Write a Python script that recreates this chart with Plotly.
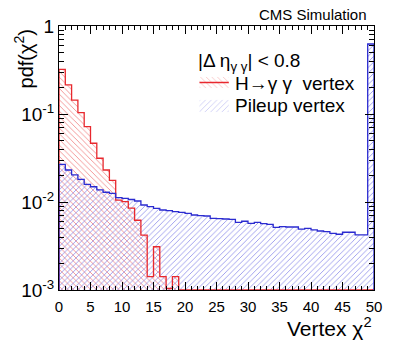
import numpy as np
import plotly.graph_objects as go

# ---- data (50 bins of width 1 in vertex chi2, 0..50) ----
bin_edges = list(range(0, 51))
higgs_vertex = [0.322, 0.214, 0.144, 0.1035, 0.0718, 0.0465, 0.0314, 0.0231, 0.0176, 0.0105,
                0.0101, 0.0085, 0.0062, 0.0042, 0.00142, 0.0031, 0.00142, 0.00104, 0.00142, 0,
                0, 0, 0, 0, 0, 0, 0, 0, 0, 0,
                0, 0, 0, 0, 0, 0, 0, 0, 0, 0,
                0, 0, 0, 0, 0, 0, 0, 0, 0, 0]
pileup_vertex = [0.0268, 0.0231, 0.0203, 0.0181, 0.0159, 0.0149, 0.0137, 0.0129, 0.01256, 0.0112,
                 0.0110, 0.01067, 0.01026, 0.00924, 0.00885, 0.00848, 0.00811, 0.00796, 0.00776, 0.00764,
                 0.00744, 0.00712, 0.00699, 0.00693, 0.00653, 0.00646, 0.00641, 0.00636, 0.00588, 0.00604,
                 0.00573, 0.00588, 0.00567, 0.00558, 0.00516, 0.00524, 0.0052, 0.0052, 0.00493, 0.00502,
                 0.00481, 0.00468, 0.0046, 0.00441, 0.0043, 0.00453, 0.00453, 0.00422, 0.00422, 0.624]
x_ticks = [0, 5, 10, 15, 20, 25, 30, 35, 40, 45, 50]
y_ticks = [1e-3, 1e-2, 1e-1, 1]
y_ticktext = ["10<sup>-3</sup>", "10<sup>-2</sup>", "10<sup>-1</sup>", "1"]

YMIN = 1e-3
FONT = "Liberation Sans, Arial, Helvetica, sans-serif"
RED_LINE = "#e8282e"
BLUE_LINE = "#2b2bd0"
RED_HATCH = "rgba(238,100,100,0.75)"
BLUE_HATCH = "rgba(115,115,228,0.75)"

edges = np.array(bin_edges, dtype=float)
centers = (edges[:-1] + edges[1:]) / 2
widths = np.diff(edges)


def step_xy(vals):
    """Histogram outline (ROOT-like): clipped at the axis minimum."""
    v = np.maximum(np.array(vals, dtype=float), YMIN)
    xs = [edges[0]] + list(edges) + [edges[-1]]
    ys = [YMIN] + list(v) + [v[-1], YMIN]
    return xs, ys


fig = go.Figure()

fig.add_trace(go.Bar(
    x=centers, y=higgs_vertex, width=widths,
    marker=dict(color=RED_HATCH, line=dict(width=0),
                pattern=dict(shape="\\", fgcolor=RED_HATCH, bgcolor="rgba(0,0,0,0)",
                             size=4, solidity=0.22, fillmode="replace")),
    showlegend=False, hoverinfo="skip"))
fig.add_trace(go.Bar(
    x=centers, y=pileup_vertex, width=widths,
    marker=dict(color=BLUE_HATCH, line=dict(width=0),
                pattern=dict(shape="/", fgcolor=BLUE_HATCH, bgcolor="rgba(0,0,0,0)",
                             size=4, solidity=0.22, fillmode="replace")),
    showlegend=False, hoverinfo="skip"))

rx, ry = step_xy(higgs_vertex)
bx, by = step_xy(pileup_vertex)
fig.add_trace(go.Scatter(x=rx, y=ry, mode="lines", line=dict(color=RED_LINE, width=1.3, shape="hv"),
                         showlegend=False, hoverinfo="skip"))
fig.add_trace(go.Scatter(x=bx, y=by, mode="lines", line=dict(color=BLUE_LINE, width=1.3, shape="hv"),
                         showlegend=False, hoverinfo="skip"))

# ---- legend swatches on an overlay axis (fractions of the plot area) ----
sw_x0, sw_x1 = 0.446, 0.539
fig.add_trace(go.Scatter(
    x=[sw_x0, sw_x1, sw_x1, sw_x0, sw_x0], y=[0.765, 0.765, 0.807, 0.807, 0.765],
    xaxis="x2", yaxis="y2", mode="none", fill="toself", fillcolor="rgba(0,0,0,0)",
    fillpattern=dict(shape="\\", fgcolor=RED_HATCH, bgcolor="rgba(0,0,0,0)", size=4, solidity=0.22),
    showlegend=False, hoverinfo="skip"))
fig.add_trace(go.Scatter(
    x=[sw_x0, sw_x1], y=[0.786, 0.786], xaxis="x2", yaxis="y2", mode="lines",
    line=dict(color=RED_LINE, width=1.5), showlegend=False, hoverinfo="skip"))
fig.add_trace(go.Scatter(
    x=[sw_x0, sw_x1, sw_x1, sw_x0, sw_x0], y=[0.674, 0.674, 0.72, 0.72, 0.674],
    xaxis="x2", yaxis="y2", mode="none", fill="toself", fillcolor="rgba(0,0,0,0)",
    fillpattern=dict(shape="/", fgcolor=BLUE_HATCH, bgcolor="rgba(0,0,0,0)", size=4, solidity=0.22),
    showlegend=False, hoverinfo="skip"))

minor_y = [k * 10.0 ** e for e in (-3, -2, -1) for k in range(2, 10)]

fig.update_layout(
    width=393, height=340,
    margin=dict(l=59, r=11, t=26, b=50),
    paper_bgcolor="white", plot_bgcolor="white",
    barmode="overlay", bargap=0,
    font=dict(family=FONT, color="black"),
    xaxis=dict(range=[0, 50], tickvals=x_ticks, ticks="inside", ticklen=8, tickcolor="black",
               showline=True, linecolor="black", linewidth=1, mirror="ticks",
               showgrid=False, zeroline=False, tickfont=dict(size=15, family=FONT),
               ticklabelstandoff=3,
               minor=dict(tickvals=list(range(0, 51)), ticks="inside", ticklen=4, tickcolor="black",
                          showgrid=False)),
    yaxis=dict(type="log", range=[-3, 0], tickvals=y_ticks, ticktext=y_ticktext,
               ticks="inside", ticklen=9, tickcolor="black",
               showline=True, linecolor="black", linewidth=1, mirror="ticks",
               showgrid=False, zeroline=False, tickfont=dict(size=19, family=FONT),
               minor=dict(tickvals=minor_y, ticks="inside", ticklen=5, tickcolor="black",
                          showgrid=False)),
    xaxis2=dict(overlaying="x", range=[0, 1], visible=False, fixedrange=True),
    yaxis2=dict(overlaying="y", range=[0, 1], visible=False, fixedrange=True),
    annotations=[
        dict(text="CMS Simulation", xref="paper", yref="paper", x=0.985, y=1.042,
             xanchor="right", yanchor="middle", showarrow=False, font=dict(size=15)),
        dict(text="|\u0394 \u03b7<sub>\u03b3 \u03b3</sub>| < 0.8", xref="paper", yref="paper",
             x=0.4334, y=0.862, xanchor="left", yanchor="middle", showarrow=False,
             font=dict(size=19)),
        dict(text="H\u2192\u03b3 \u03b3  vertex", xref="paper", yref="paper", x=0.551, y=0.784,
             xanchor="left", yanchor="middle", showarrow=False, font=dict(size=19)),
        dict(text="Pileup vertex", xref="paper", yref="paper", x=0.551, y=0.697,
             xanchor="left", yanchor="middle", showarrow=False, font=dict(size=19)),
        dict(text="Vertex \u03c7<sup>2</sup>", xref="paper", yref="paper", x=1.0, y=-0.14,
             xanchor="right", yanchor="middle", showarrow=False, font=dict(size=21)),
        dict(text="pdf(\u03c7<sup>2</sup>)", xref="paper", yref="paper", x=-0.1115, y=0.996,
             xanchor="center", yanchor="top", textangle=-90, showarrow=False, font=dict(size=20)),
    ],
)

fig.write_html("out.html")
